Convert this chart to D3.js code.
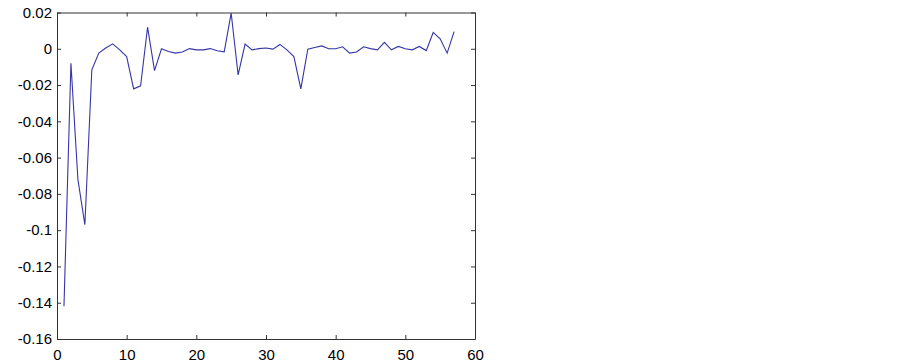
<!DOCTYPE html>
<html>
<head>
<meta charset="utf-8">
<script src="https://cdn.jsdelivr.net/npm/d3@7"></script>
<style>
  body { margin: 0; background: #fff; }
  svg text { font-family: "Liberation Sans", Arial, sans-serif; font-size: 15px; fill: #000; }
</style>
</head>
<body>
<div id="chart"></div>
<script>
// x positions 1..57 and values
const xs = d3.range(1, 58);
const values = [
  -0.142, -0.008, -0.072, -0.097, -0.0116, -0.0024, 0.0004, 0.0027, -0.0006, -0.0043,
  -0.0221, -0.0204, 0.0119, -0.012, 0.0, -0.0015, -0.0024, -0.0018, 0.0001, -0.0006,
  -0.0006, 0.0001, -0.0011, -0.0017, 0.0197, -0.0144, 0.0026, -0.0006, 0.0001, 0.0004,
  -0.0002, 0.0024, -0.0006, -0.0043, -0.0221, -0.0002, 0.0007, 0.0016, 0.0, 0.0,
  0.0011, -0.0024, -0.0018, 0.0011, 0.0001, -0.0006, 0.0035, -0.0006, 0.0013, 0.0,
  -0.0006, 0.0013, -0.001, 0.009, 0.0055, -0.0024, 0.0095
];
const xTicks = [0, 10, 20, 30, 40, 50, 60];
const yTicks = [0.02, 0, -0.02, -0.04, -0.06, -0.08, -0.1, -0.12, -0.14, -0.16];

const W = 902, H = 364;
const margin = {top: 12.5, right: 427, bottom: 25, left: 57};
const width = W - margin.left - margin.right,
      height = H - margin.top - margin.bottom;

const svg = d3.select("#chart").append("svg")
    .attr("width", W)
    .attr("height", H)
  .append("g")
    .attr("transform", "translate(" + margin.left + "," + margin.top + ")");

const x = d3.scaleLinear().domain([0, 60]).range([0, width]);
const y = d3.scaleLinear().domain([-0.16, 0.02]).range([height, 0]);

const fmt = d => d === 0 ? "0" : String(d);

// inward ticks on all sides, like matlab
function style(g, labels) {
  g.select(".domain").attr("stroke", "#333");
  g.selectAll(".tick line").attr("stroke", "#333");
  if (!labels) g.selectAll(".tick text").remove();
}

svg.append("g")
    .attr("transform", "translate(0," + height + ")")
    .call(d3.axisBottom(x).tickValues(xTicks).tickFormat(fmt).tickSizeInner(-4).tickSizeOuter(0).tickPadding(10))
    .call(g => style(g, true));

svg.append("g")
    .call(d3.axisTop(x).tickValues(xTicks).tickSizeInner(-4).tickSizeOuter(0))
    .call(g => style(g, false));

svg.append("g")
    .call(d3.axisLeft(y).tickValues(yTicks).tickFormat(fmt).tickSizeInner(-4).tickSizeOuter(0).tickPadding(5))
    .call(g => style(g, true));

svg.append("g")
    .attr("transform", "translate(" + width + ",0)")
    .call(d3.axisRight(y).tickValues(yTicks).tickSizeInner(-4).tickSizeOuter(0))
    .call(g => style(g, false));

svg.selectAll(".tick text").style("font-size", "15px");

const line = d3.line()
    .x((d, i) => x(xs[i]))
    .y(d => y(d));

svg.append("path")
    .datum(values)
    .attr("d", line)
    .attr("fill", "none")
    .attr("stroke", "#3535a8")
    .attr("stroke-width", 1.1);
</script>
</body>
</html>
